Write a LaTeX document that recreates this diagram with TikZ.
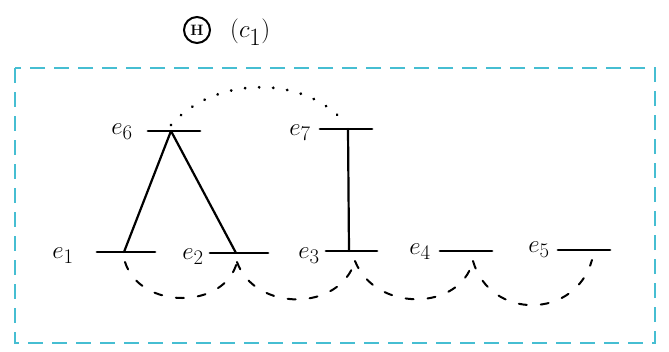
\documentclass[tikz,border=0pt]{standalone}
\usetikzlibrary{calc}
\definecolor{frame}{RGB}{70,190,210}
\tikzset{
  bar/.style={line width=2.8pt, line cap=round},
  link/.style={line width=2.2pt, line cap=round},
  lbl/.style={font=\fontsize{30}{32}\selectfont, inner sep=0pt},
  dlink/.style={line width=2pt, dash pattern=on 8pt off 14pt, line cap=round},
  dotlink/.style={line width=3pt, dash pattern=on 0.1pt off 14pt, line cap=round}
}
\begin{document}
\begin{tikzpicture}[x=1pt,y=-1pt]
\useasboundingbox (0,0) rectangle (669,351);
% frame
\draw[frame, line width=2pt, dash pattern=on 15pt off 9pt] (15,68) rectangle (655,343);
% title
\node[draw, circle, line width=2pt, minimum size=26pt, inner sep=0pt, font=\bfseries\fontsize{15}{15}\selectfont] (h) at (197,30) {H};
\node[lbl, anchor=west, font=\fontsize{34}{36}\selectfont] (c1) at (230,32) {$(c_1)$};
% bars
\foreach \n/\xa/\xb/\y in {e6/148/200/131, e7/320/372/129, e1/97/155/252, e2/210/268/253, e3/326/377/251, e4/440/492/251, e5/558/610/250}{
  \coordinate (\n l) at (\xa,\y);
  \coordinate (\n r) at (\xb,\y);
  \draw[bar] (\n l) -- (\n r);
}
\coordinate (e6t) at (171,131);
\coordinate (e7t) at (348,129);
\coordinate (e1t) at (124,252);
\coordinate (e2t) at (236,253);
\coordinate (e3t) at (349,251);
% labels
\node[lbl] (le1) at (63,256) {$e_1$};
\node[lbl] (le2) at (193,257) {$e_2$};
\node[lbl] (le3) at (309,256) {$e_3$};
\node[lbl] (le4) at (420,252) {$e_4$};
\node[lbl] (le5) at (539,250) {$e_5$};
\node[lbl] (le6) at (122,132) {$e_6$};
\node[lbl] (le7) at (300,133) {$e_7$};
% solid links
\draw[link] (e6t) -- (e1t);
\draw[link] (e6t) -- (e2t);
\draw[link] (e7t) -- (e3t);
% dotted arc
\draw[dotlink] (e6t) ++(0,-6) .. controls (215,75) and (305,75) .. ($(e7t)+(-3,-6)$);
% tick ends of dashed arcs
\coordinate (k1) at (125,262);
\coordinate (k2) at (237,262);
\coordinate (k3) at (355,261);
\coordinate (k4) at (473,261);
\coordinate (k5) at (592,260);
% dashed arcs
\draw[dlink] (k1) .. controls (140,310) and (225,310) .. (k2);
\draw[dlink] (k2) .. controls (255,312) and (340,312) .. (k3);
\draw[dlink] (k3) .. controls (375,312) and (460,312) .. (k4);
\draw[dlink] (k4) .. controls (490,320) and (575,320) .. (k5);
\end{tikzpicture}
\end{document}
